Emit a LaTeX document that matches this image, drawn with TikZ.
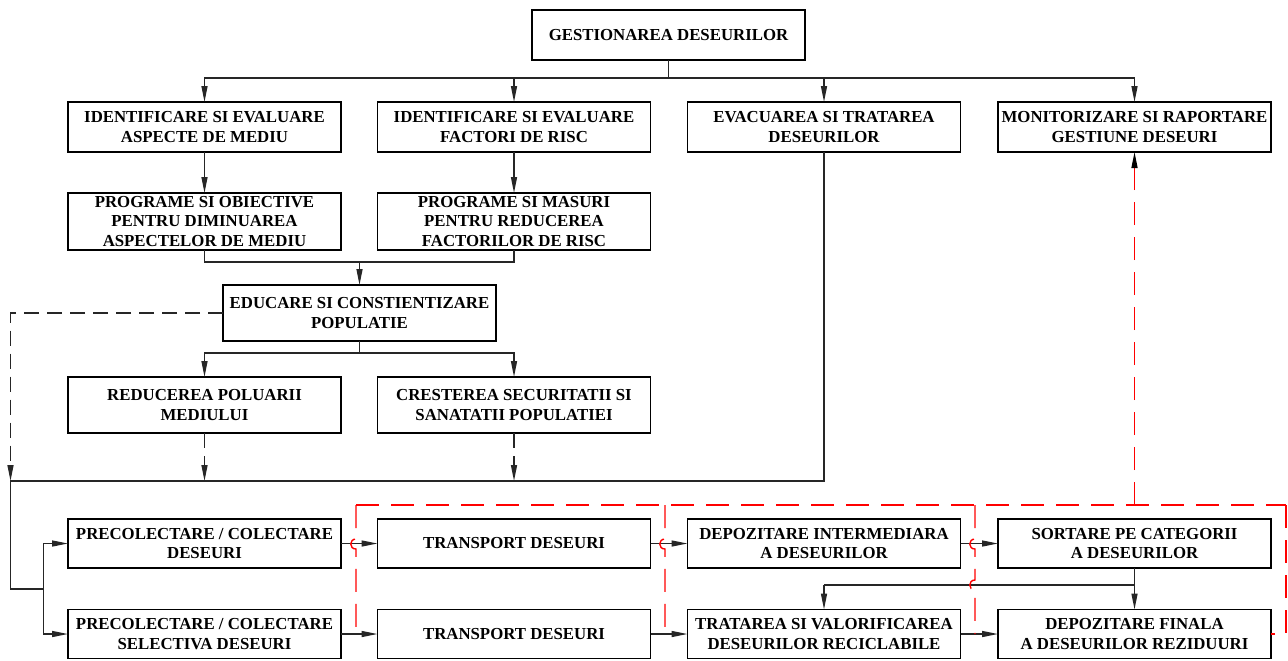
\documentclass[tikz,border=0pt]{standalone}
\usepackage{fontspec}
\setmainfont{Liberation Serif}
\usetikzlibrary{arrows.meta}
\begin{document}
\begin{tikzpicture}[x=0.5pt,y=-0.5pt]
\tikzset{
  box/.style={draw=black, line width=0.7pt, minimum width=136.5pt, align=center,
    inner sep=0pt, outer sep=0pt, font=\fontsize{8.4pt}{9.6pt}\selectfont\bfseries},
  h50/.style={minimum height=25pt},
  h57/.style={minimum height=28.5pt},
  h56/.style={minimum height=28pt},
  h49/.style={minimum height=24.5pt},
  conn/.style={line width=0.7pt, draw=black!85},
  arr/.style={conn, -{Triangle[length=8pt,width=3pt]}},
  dsh/.style={dash pattern=on 7.5pt off 4pt},
  rd/.style={draw=red, line width=0.7pt, dash pattern=on 11.5pt off 6pt},
}
\useasboundingbox (0,0) rectangle (1288,660);

% nodes
\node[box,h50] (top) at (668.5,35) {GESTIONAREA DESEURILOR};
\node[box,h50] (r1a) at (204.5,127) {IDENTIFICARE SI EVALUARE\\ASPECTE DE MEDIU};
\node[box,h50] (r1b) at (514,127) {IDENTIFICARE SI EVALUARE\\FACTORI DE RISC};
\node[box,h50] (r1c) at (824,127) {EVACUAREA SI TRATAREA\\DESEURILOR};
\node[box,h50] (r1d) at (1134.5,127) {MONITORIZARE SI RAPORTARE\\GESTIUNE DESEURI};
\node[box,h57] (r2a) at (204.5,221.5) {PROGRAME SI OBIECTIVE\\PENTRU DIMINUAREA\\ASPECTELOR DE MEDIU};
\node[box,h57] (r2b) at (514,221.5) {PROGRAME SI MASURI\\PENTRU REDUCEREA\\FACTORILOR DE RISC};
\node[box,h56] (edu) at (359.5,313) {EDUCARE SI CONSTIENTIZARE\\POPULATIE};
\node[box,h56] (r3a) at (204.5,405) {REDUCEREA POLUARII\\MEDIULUI};
\node[box,h56] (r3b) at (514,405) {CRESTEREA SECURITATII SI\\SANATATII POPULATIEI};
\node[box,h49] (b1a) at (204.5,543.5) {PRECOLECTARE / COLECTARE\\DESEURI};
\node[box,h49] (b1b) at (514,543.5) {TRANSPORT DESEURI};
\node[box,h49] (b1c) at (824,543.5) {DEPOZITARE INTERMEDIARA\\A DESEURILOR};
\node[box,h49] (b1d) at (1134.5,543.5) {SORTARE PE CATEGORII\\A DESEURILOR};
\node[box,h49] (b2a) at (204.5,634) {PRECOLECTARE / COLECTARE\\SELECTIVA DESEURI};
\node[box,h49] (b2b) at (514,634) {TRANSPORT DESEURI};
\node[box,h49] (b2c) at (824,634) {TRATAREA SI VALORIFICAREA\\DESEURILOR RECICLABILE};
\node[box,h49] (b2d) at (1134.5,634) {DEPOZITARE FINALA\\A DESEURILOR REZIDUURI};

% top bus
\coordinate (bus1) at (668.5,78);
\draw[conn] (top.south) -- (bus1);
\draw[arr] (bus1) -| (r1a.north);
\draw[arr] (bus1) -| (r1b.north);
\draw[arr] (bus1) -| (r1c.north);
\draw[arr] (bus1) -| (r1d.north);

\draw[arr] (r1a.south) -- (r2a.north);
\draw[arr] (r1b.south) -- (r2b.north);

\coordinate (j1) at (359.5,262);
\draw[conn] (r2a.south) |- (j1) -| (r2b.south);
\draw[arr] (j1) -- (edu.north);

\coordinate (j2) at (359.5,353);
\draw[conn] (edu.south) -- (j2);
\draw[arr] (j2) -| (r3a.north);
\draw[arr] (j2) -| (r3b.north);

% lower bus
\coordinate (busL) at (10.5,481);
\coordinate (busA) at (204.5,481);
\coordinate (busB) at (514,481);
\coordinate (kL) at (10.5,589);
\coordinate (kR) at (43.5,589);
\draw[arr,dsh] (edu.west) -| (busL);
\draw[arr,dsh] (r3a.south) -- (busA);
\draw[arr,dsh] (r3b.south) -- (busB);
\draw[conn] (r1c.south) |- (busL) -- (kL) -- (kR);
\draw[arr] (kR) |- (b1a.west);
\draw[arr] (kR) |- (b2a.west);

% bottom chain
\draw[arr] (b1a.east) -- (b1b.west);
\draw[arr] (b1b.east) -- (b1c.west);
\draw[arr] (b1c.east) -- (b1d.west);
\draw[arr] (b2a.east) -- (b2b.west);
\draw[arr] (b2b.east) -- (b2c.west);
\draw[arr] (b2c.east) -- (b2d.west);
\coordinate (s1) at (1134.5,585);
\coordinate (s2) at (824,585);
\draw[conn] (b1d.south) -- (s1) -- (s2);
\draw[arr] (s2) -- (b2c.north);
\draw[arr] (s1) -- (b2d.north);

% red monitoring lines
\coordinate (p1t) at (356,505);
\coordinate (p1b) at (356,634);
\coordinate (p2t) at (665,505);
\coordinate (p2b) at (665,634);
\coordinate (p3t) at (975,505);
\coordinate (p3b) at (975,634);
\coordinate (p4t) at (1286,505);
\coordinate (p4b) at (1286,634);
\coordinate (m0) at (1134.5,505);
\draw[rd] (p1t) -- (p4t);
\draw[rd] (p1t) -- (356,539) .. controls (349,539) and (349,549) .. (356,549) -- (p1b);
\draw[rd] (p2t) -- (665,539) .. controls (658,539) and (658,549) .. (665,549) -- (p2b);
\draw[rd] (p3t) -- (975,539) .. controls (968,539) and (968,549) .. (975,549)
   -- (975,580) .. controls (968,580) and (968,590) .. (975,590) -- (p3b);
\draw[rd] (p4t) -- (p4b) -- (b2d.east);
\draw[rd,-{Triangle[length=8pt,width=3pt,color=black]}] (m0) -- (r1d.south);
\end{tikzpicture}
\end{document}
